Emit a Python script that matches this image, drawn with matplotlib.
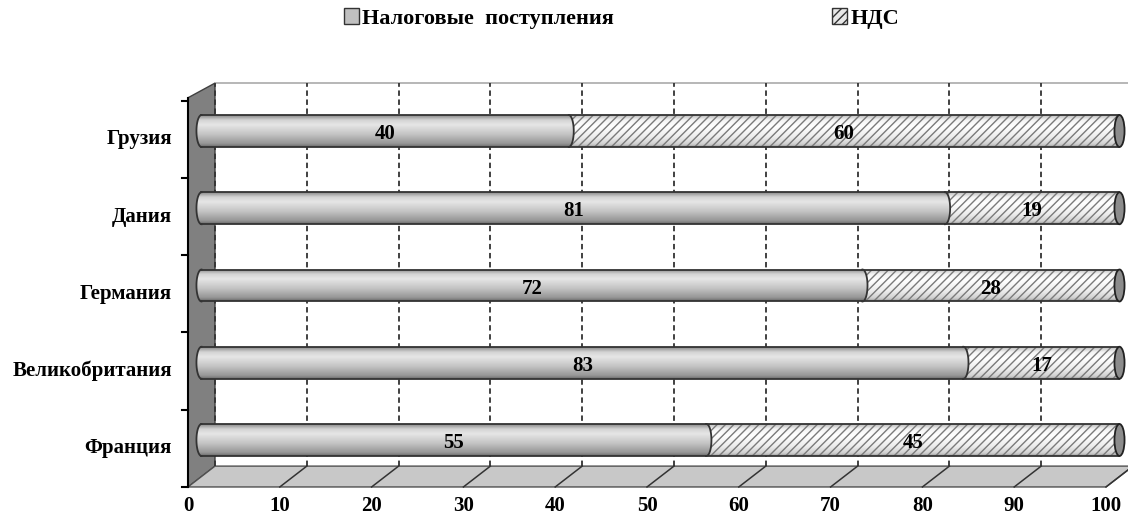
import numpy as np
import matplotlib.pyplot as plt
from matplotlib.patches import Polygon, Rectangle, Ellipse, Patch
from matplotlib.colors import LinearSegmentedColormap

plt.rcParams['font.family'] = ['Liberation Serif', 'DejaVu Serif']
plt.rcParams['font.weight'] = 'bold'
plt.rcParams['hatch.linewidth'] = 1.0

# data
countries = ['Франция', 'Великобритания', 'Германия', 'Дания', 'Грузия']
tax = [55, 83, 72, 81, 40]
vat = [45, 17, 28, 19, 60]
series_names = ['Налоговые  поступления', 'НДС']
xticks = [0, 10, 20, 30, 40, 50, 60, 70, 80, 90, 100]

# pseudo 3d geometry (value units in x, category units in y)
dx = 2.94      # depth offset, x
dy = 0.27      # depth offset, y
y_front = -0.608
y_back = y_front + dy
top_back = 4.62
top_front = 4.43
bar_h = 0.414
cap_w = 1.1
xmax = 100
fs = 15

fig = plt.figure(figsize=(11.28, 5.26), dpi=100)
ax = fig.add_axes([0, 0, 1, 1])
ax.axis('off')

# side wall and floor
ax.add_patch(Polygon([(0, y_front), (0, top_front), (dx, top_back), (dx, y_back)],
                     closed=True, facecolor='#808080', edgecolor='#404040', lw=1, zorder=1))
ax.add_patch(Polygon([(0, y_front), (xmax, y_front), (xmax + dx, y_back), (dx, y_back)],
                     closed=True, facecolor='#c8c8c8', edgecolor='#505050', lw=1, zorder=1))
ax.plot([dx, xmax + dx], [top_back, top_back], color='#aaaaaa', lw=1.2, zorder=1)

# grid on the back wall and floor
for v in xticks:
    if v < xmax:
        ax.plot([v + dx, v + dx], [y_back, top_back], color='#333333', lw=1.3,
                ls=(0, (3, 2)), zorder=2)
    if v > 0:
        ax.plot([v, v + dx], [y_front, y_back], color='#333333', lw=1.1, zorder=2)

# front y axis with ticks
ax.plot([0, 0], [y_front, top_front], color='black', lw=1.5, zorder=3)
for k in range(len(countries) + 1):
    ax.plot([-0.7, 0], [y_front + k, y_front + k], color='black', lw=1.5, zorder=3)

gray_cmap = LinearSegmentedColormap.from_list(
    'cyl', [(0, '#8a8a8a'), (0.15, '#d4d4d4'), (0.3, '#e6e6e6'), (0.6, '#c4c4c4'),
            (0.9, '#969696'), (1, '#6a6a6a')])
white_cmap = LinearSegmentedColormap.from_list(
    'cylw', [(0, '#bdbdbd'), (0.15, '#f4f4f4'), (0.35, '#ffffff'), (0.7, '#ececec'),
             (0.92, '#cfcfcf'), (1, '#9a9a9a')])
grad = np.linspace(0, 1, 64).reshape(-1, 1)
half = np.linspace(-np.pi / 2, np.pi / 2, 40)


def shaded(x0, x1, yc, cmap, z, left_cap, right_cap):
    shapes = [Rectangle((x0, yc - bar_h / 2), x1 - x0, bar_h)]
    if left_cap:
        shapes.append(Ellipse((x0, yc), cap_w, bar_h))
    if right_cap:
        shapes.append(Ellipse((x1, yc), cap_w, bar_h))
    for s in shapes:
        im = ax.imshow(grad, cmap=cmap, aspect='auto', zorder=z,
                       extent=(x0 - cap_w, x1 + cap_w, yc - bar_h / 2, yc + bar_h / 2),
                       origin='upper', interpolation='bilinear')
        s.set_transform(ax.transData)
        im.set_clip_path(s)


off = dx / 2
for i, (name, a, b) in enumerate(zip(countries, tax, vat)):
    yc = i
    xa0 = off
    xa1 = off + a
    xb1 = off + a + b
    # vat segment
    shaded(xa1, xb1, yc, white_cmap, 4, False, False)
    ax.add_patch(Rectangle((xa1, yc - bar_h / 2), xb1 - xa1, bar_h, facecolor='none',
                           edgecolor='#7a7a7a', hatch='////', lw=0, zorder=4.5))
    ax.plot([xa1, xb1], [yc + bar_h / 2, yc + bar_h / 2], color='#333333', lw=1.3, zorder=5)
    ax.plot([xa1, xb1], [yc - bar_h / 2, yc - bar_h / 2], color='#333333', lw=1.3, zorder=5)
    ax.add_patch(Ellipse((xb1, yc), cap_w, bar_h, facecolor='#8c8c8c',
                         edgecolor='#222222', lw=1.3, zorder=5))
    # tax segment
    shaded(xa0, xa1, yc, gray_cmap, 6, True, True)
    ax.plot([xa0, xa1], [yc + bar_h / 2, yc + bar_h / 2], color='#333333', lw=1.3, zorder=7)
    ax.plot([xa0, xa1], [yc - bar_h / 2, yc - bar_h / 2], color='#333333', lw=1.3, zorder=7)
    ax.plot(xa0 - cap_w / 2 * np.cos(half), yc + bar_h / 2 * np.sin(half), color='#333333',
            lw=1.3, zorder=7)
    ax.plot(xa1 + cap_w / 2 * np.cos(half), yc + bar_h / 2 * np.sin(half), color='#333333',
            lw=1.3, zorder=7)
    # value labels
    ax.text(xa0 + a / 2, yc - 0.04, str(a), ha='center', va='center', fontsize=fs, zorder=8)
    ax.text(xa1 + b / 2, yc - 0.04, str(b), ha='center', va='center', fontsize=fs, zorder=8)
    # category labels
    ax.text(-1.75, y_front + i + 0.5, name, ha='right', va='center', fontsize=fs)

for v in xticks:
    ax.text(v, -0.85, str(v), ha='center', va='center', fontsize=fs)

handles = [Patch(facecolor='#c0c0c0', edgecolor='#333333', lw=1),
           Patch(facecolor='#e8e8e8', edgecolor='#333333', lw=1, hatch='////')]
fig.legend(handles, series_names, loc='upper center', bbox_to_anchor=(0.551, 1.022),
           ncol=2, frameon=False, fontsize=16, handlelength=0.7, handleheight=0.7,
           handletextpad=0.15, columnspacing=9.8)

ax.set_xlim(-188 / 9.18, (1128 - 188) / 9.18)
ax.set_ylim(-86 / 77.25, 440 / 77.25)

fig.savefig('out.png', dpi=100)
